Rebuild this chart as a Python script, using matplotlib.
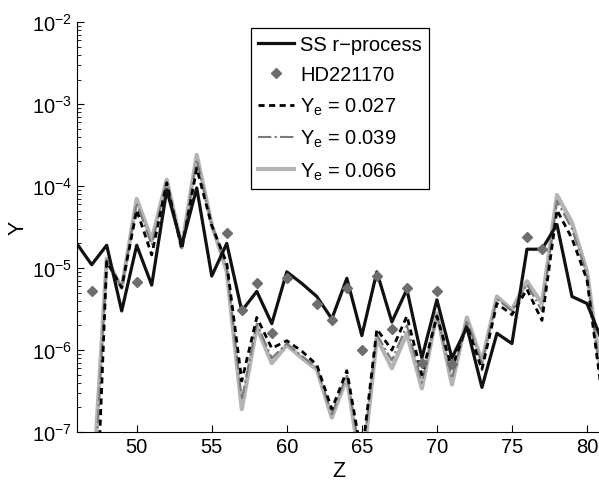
import numpy as np
import matplotlib
matplotlib.use("Agg")
import matplotlib.pyplot as plt

plt.rcParams['font.family'] = ['Liberation Sans', 'DejaVu Sans']
plt.rcParams['mathtext.default'] = 'regular'

# atomic number
z_ss = list(range(46, 82))
z_model = list(range(47, 82))

# solar system r-process abundances
ss_rprocess = [2.0e-5, 1.1e-5, 1.9e-5, 3.0e-6, 1.9e-5, 6.2e-6, 9.0e-5, 1.9e-5,
               9.5e-5, 8.0e-6, 2.0e-5, 3.0e-6, 5.2e-6, 2.1e-6, 9.0e-6, 6.5e-6,
               4.5e-6, 2.4e-6, 7.5e-6, 1.5e-6, 9.0e-6, 2.2e-6, 5.5e-6, 8.0e-7,
               4.1e-6, 8.0e-7, 1.9e-6, 3.5e-7, 1.6e-6, 1.2e-6, 1.7e-5, 1.7e-5,
               3.4e-5, 4.5e-6, 3.7e-6, 1.3e-6]

# HD221170 observations
z_hd = [47, 50, 56, 57, 58, 59, 60, 62, 63, 64, 65, 66, 67, 68, 69, 70, 71, 76, 77]
hd221170 = [5.3e-6, 6.7e-6, 2.7e-5, 3.1e-6, 6.6e-6, 1.6e-6, 7.5e-6, 3.6e-6,
            2.3e-6, 5.7e-6, 1.0e-6, 8.1e-6, 1.8e-6, 5.7e-6, 6.9e-7, 5.2e-6,
            6.7e-7, 2.4e-5, 1.7e-5]

ye_027 = [3e-10, 1.2e-5, 5.8e-6, 5.1e-5, 1.45e-5, 1.1e-4, 1.7e-5, 1.65e-4,
          3.3e-5, 1.15e-5, 4.2e-7, 2.5e-6, 1.05e-6, 1.3e-6, 9.7e-7, 6.6e-7,
          1.9e-7, 5.6e-7, 5.0e-8, 1.8e-6, 1.0e-6, 2.6e-6, 5.0e-7, 2.6e-6,
          6.0e-7, 2.0e-6, 5.8e-7, 3.7e-6, 2.7e-6, 5.5e-6, 2.3e-6, 5.1e-5,
          2.3e-5, 7.2e-6, 2.8e-7]

ye_039 = [5e-9, 1.25e-5, 5.7e-6, 6.2e-5, 1.9e-5, 1.15e-4, 1.75e-5, 2.1e-4,
          3.4e-5, 1.0e-5, 2.5e-7, 2.1e-6, 8.0e-7, 1.2e-6, 8.5e-7, 6.1e-7,
          1.65e-7, 5.0e-7, 4e-8, 1.55e-6, 7.5e-7, 2.0e-6, 4.0e-7, 2.7e-6,
          4.5e-7, 2.3e-6, 6.8e-7, 4.2e-6, 3.0e-6, 6.3e-6, 3.0e-6, 6.6e-5,
          3.0e-5, 8.3e-6, 3.5e-7]

ye_066 = [1.2e-8, 1.3e-5, 5.7e-6, 7.0e-5, 2.2e-5, 1.2e-4, 1.8e-5, 2.4e-4,
          3.4e-5, 9.1e-6, 1.9e-7, 1.9e-6, 6.9e-7, 1.15e-6, 8.0e-7, 5.8e-7,
          1.5e-7, 4.6e-7, 3.0e-8, 1.4e-6, 6.0e-7, 1.6e-6, 3.4e-7, 2.8e-6,
          3.8e-7, 2.5e-6, 7.3e-7, 4.5e-6, 3.1e-6, 6.9e-6, 3.7e-6, 7.8e-5,
          3.6e-5, 9.1e-6, 4.2e-7]

fig = plt.figure(figsize=(5.99, 4.89), dpi=100)
ax = fig.add_axes([0.128, 0.1145, 0.877, 0.838])

l_066, = ax.plot(z_model, ye_066, color='#b4b4b4', lw=3.0, zorder=2,
                 label=r'$Y_e$ = 0.066')
l_039, = ax.plot(z_model, ye_039, color='#7a7a7a', lw=1.5, ls='-.', zorder=2.1,
                 label=r'$Y_e$ = 0.039')
l_027, = ax.plot(z_model, ye_027, color='black', lw=2.0, ls=(0, (2.2, 1.6)),
                 zorder=2.2, label=r'$Y_e$ = 0.027')
l_ss, = ax.plot(z_ss, ss_rprocess, color='#111111', lw=2.3, zorder=2.3,
                label='SS r\u2212process')
l_hd, = ax.plot(z_hd, hd221170, ls='none', marker='D', ms=5.5, color='#6e6e6e',
                zorder=3, label='HD221170')

ax.set_yscale('log')
ax.set_xlim(46, 81)
ax.set_ylim(1e-7, 1e-2)
ax.set_xticks([50, 55, 60, 65, 70, 75, 80])
ax.set_yticks([1e-7, 1e-6, 1e-5, 1e-4, 1e-3, 1e-2])
ax.tick_params(which='both', direction='in', labelsize=14.5)
ax.tick_params(which='major', length=5)
ax.tick_params(which='minor', length=3)
ax.spines['top'].set_visible(False)
ax.spines['right'].set_visible(False)
ax.set_xlabel('Z', fontsize=15.5, labelpad=3)
ax.set_ylabel('Y', fontsize=15.5, labelpad=2)

leg = ax.legend(handles=[l_ss, l_hd, l_027, l_039, l_066],
                loc='upper left', bbox_to_anchor=(0.332, 0.985),
                borderaxespad=0, fontsize=14.5, handlelength=1.8,
                handletextpad=0.3, labelspacing=0.55, borderpad=0.35,
                fancybox=False, framealpha=1, edgecolor='black', numpoints=1)
leg.get_frame().set_linewidth(0.9)

fig.savefig('out.png', dpi=100)
